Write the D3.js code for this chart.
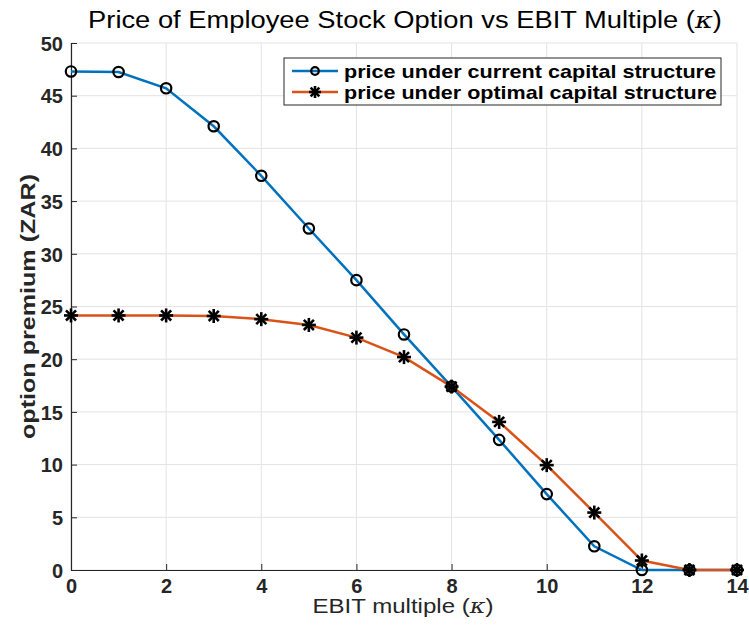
<!DOCTYPE html>
<html><head><meta charset="utf-8">
<script src="https://cdn.jsdelivr.net/npm/d3@7"></script>
<style>body{margin:0;background:#fff;} svg{display:block;}</style>
</head><body>
<script>
const kappa = [0,1,2,3,4,5,6,7,8,9,10,11,12,13,14];
const currentPrice = [47.3,47.25,45.7,42.1,37.4,32.4,27.5,22.35,17.4,12.35,7.2,2.25,0,0,0];
const optimalPrice = [24.15,24.15,24.15,24.1,23.8,23.25,22.05,20.2,17.4,14.05,9.95,5.45,0.9,0,0];
const xTicks = [0,2,4,6,8,10,12,14];
const yTicks = [0,5,10,15,20,25,30,35,40,45,50];
const seriesNames = ["price under current capital structure","price under optimal capital structure"];

const W=749,H=626, L=71, R=737, T=43, B=570;
const svg=d3.select("body").append("svg").attr("width",W).attr("height",H);
const x=d3.scaleLinear().domain([0,14]).range([L,R]);
const y=d3.scaleLinear().domain([0,50]).range([B,T]);
const font="'Liberation Sans', Arial, Helvetica, sans-serif";
const axisCol="#262626";

function fitWidth(sel, targetW, ax, ay, rot){
  const w=sel.node().getBBox().width;
  const s=targetW/w;
  sel.attr("transform",`translate(${ax},${ay})${rot?` rotate(${rot})`:""} scale(${s},1)`);
}

// grid
svg.append("g").selectAll("line").data(xTicks).join("line")
  .attr("x1",d=>x(d)).attr("x2",d=>x(d)).attr("y1",T).attr("y2",B)
  .attr("stroke","#e3e3e3").attr("stroke-width",1);
svg.append("g").selectAll("line").data(yTicks).join("line")
  .attr("x1",L).attr("x2",R).attr("y1",d=>y(d)).attr("y2",d=>y(d))
  .attr("stroke","#e3e3e3").attr("stroke-width",1);

// axes
const xAxis=svg.append("g").attr("transform",`translate(0,${B})`)
  .call(d3.axisBottom(x).tickValues(xTicks).tickSize(-6).tickPadding(8).tickSizeOuter(0));
const yAxis=svg.append("g").attr("transform",`translate(${L},0)`)
  .call(d3.axisLeft(y).tickValues(yTicks).tickSize(-6).tickPadding(8).tickSizeOuter(0));
[xAxis,yAxis].forEach(g=>{
  g.select(".domain").attr("stroke",axisCol).attr("stroke-width",1.2);
  g.selectAll(".tick line").attr("stroke",axisCol);
  g.selectAll(".tick text").attr("fill",axisCol).attr("font-family",font)
   .attr("font-size",20).attr("font-weight","bold");
});
xAxis.selectAll(".tick text").attr("y",0).attr("dy",0).attr("transform","translate(0,23)");
yAxis.selectAll(".tick text").attr("dy","0.36em");

// lines
const line=d3.line().x((d,i)=>x(kappa[i])).y(d=>y(d));
svg.append("path").datum(currentPrice).attr("d",line).attr("fill","none")
  .attr("stroke","#0072BD").attr("stroke-width",2.5);
svg.append("path").datum(optimalPrice).attr("d",line).attr("fill","none")
  .attr("stroke","#D95319").attr("stroke-width",2.5);

function circleMarker(g,cx,cy,r){
  g.append("circle").attr("cx",cx).attr("cy",cy).attr("r",r||5.2)
   .attr("fill","none").attr("stroke","#000").attr("stroke-width",2.2);
}
function starMarker(g,cx,cy,s){
  s=s||7; const d=s*0.72;
  const segs=[[0,-s,0,s],[-s,0,s,0],[-d,-d,d,d],[-d,d,d,-d]];
  segs.forEach(p=>g.append("line").attr("x1",cx+p[0]).attr("y1",cy+p[1])
    .attr("x2",cx+p[2]).attr("y2",cy+p[3]).attr("stroke","#000").attr("stroke-width",2.6)
    .attr("stroke-linecap","butt"));
}
const mk=svg.append("g");
currentPrice.forEach((v,i)=>circleMarker(mk,x(kappa[i]),y(v)));
optimalPrice.forEach((v,i)=>starMarker(mk,x(kappa[i]),y(v)));

// title
const title=svg.append("text").attr("text-anchor","middle")
  .attr("font-family",font).attr("font-size",23).attr("fill","#000");
title.append("tspan").text("Price of Employee Stock Option vs EBIT Multiple (");
title.append("tspan").attr("font-family","'DejaVu Serif', serif").attr("font-style","italic").text("κ");
title.append("tspan").text(")");
fitWidth(title,634,405,28);

// x label
const xl=svg.append("text").attr("text-anchor","middle")
  .attr("font-family",font).attr("font-size",19.5).attr("fill",axisCol);
xl.append("tspan").text("EBIT multiple (");
xl.append("tspan").attr("font-family","'DejaVu Serif', serif").attr("font-style","italic").text("κ");
xl.append("tspan").text(")");
fitWidth(xl,181,403,613);

// y label
const yl=svg.append("text")
  .attr("text-anchor","middle").attr("font-family",font).attr("font-size",20)
  .attr("font-weight","bold").attr("fill",axisCol).text("option premium (ZAR)");
yl.attr("transform",`translate(35,${(T+B)/2}) rotate(-90)`);
yl.attr("textLength",265).attr("lengthAdjust","spacingAndGlyphs");

// legend
const lg=svg.append("g");
lg.append("rect").attr("x",284).attr("y",58).attr("width",437).attr("height",47)
  .attr("fill","#fff").attr("stroke","#262626").attr("stroke-width",1);
const colors=["#0072BD","#D95319"];
seriesNames.forEach((n,i)=>{
  const yy=71+i*21;
  lg.append("line").attr("x1",292).attr("x2",338).attr("y1",yy).attr("y2",yy)
    .attr("stroke",colors[i]).attr("stroke-width",2.5);
  if(i===0) circleMarker(lg,315,yy,3.8);
  else starMarker(lg,315,yy,6);
  const t=lg.append("text").attr("x",344).attr("y",yy+6.5).attr("font-family",font)
    .attr("font-size",18.5).attr("font-weight","bold").attr("fill","#000").text(n);
  t.attr("textLength",i===0?372:373).attr("lengthAdjust","spacingAndGlyphs");
});
</script>
</body></html>
